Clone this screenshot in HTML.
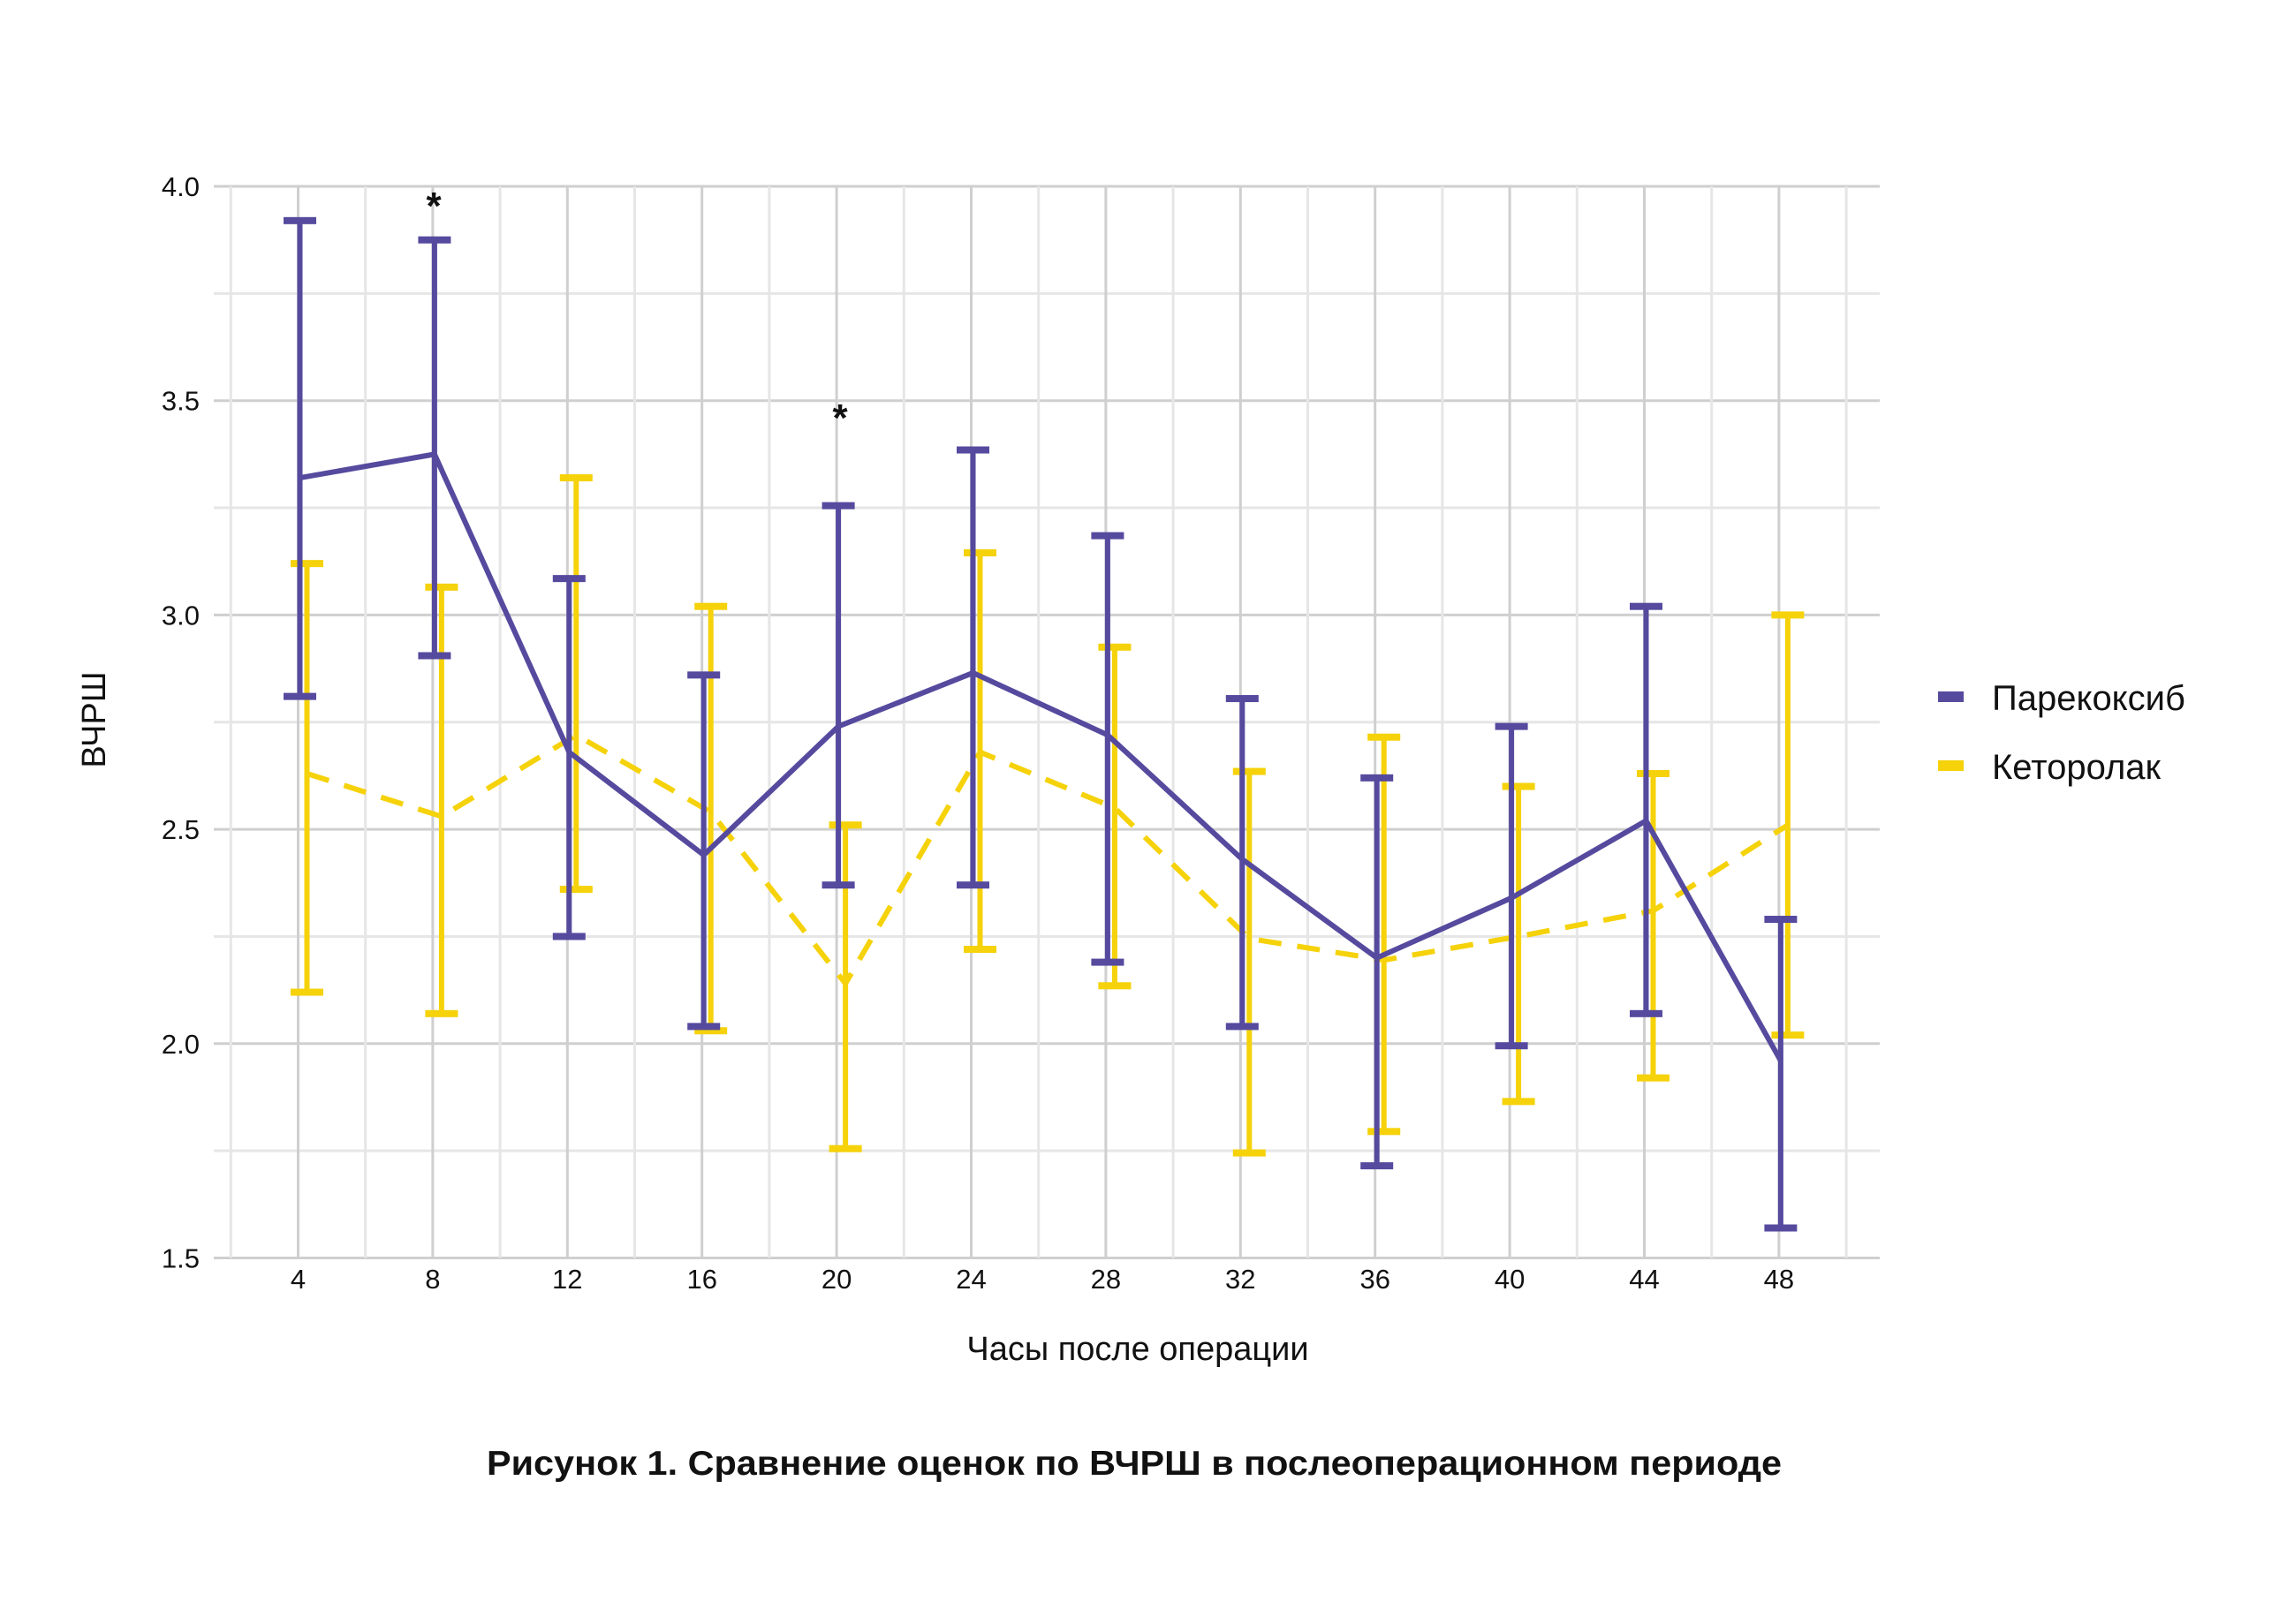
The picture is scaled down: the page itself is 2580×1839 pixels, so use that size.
<!DOCTYPE html>
<html><head><meta charset="utf-8">
<style>
html,body{margin:0;padding:0;background:#fff;}
svg{display:block;}
text{font-family:"Liberation Sans","DejaVu Sans",sans-serif;fill:#111;}
</style></head>
<body>
<svg id="c" width="2580" height="1839" viewBox="0 0 2580 1839" xmlns="http://www.w3.org/2000/svg">
<rect width="2580" height="1839" fill="#fff"/>
<g id="grid"></g>
<g id="series"></g>
<text x="107" y="815" font-size="38" text-anchor="middle" dominant-baseline="central" transform="rotate(-90 107 815)">ВЧРШ</text>
<text x="1288" y="1540" font-size="38" text-anchor="middle">Часы после операции</text>
<text x="1284" y="1670" font-size="39" font-weight="bold" text-anchor="middle" textLength="1466" lengthAdjust="spacingAndGlyphs">Рисунок 1. Сравнение оценок по ВЧРШ в послеоперационном периоде</text>
<rect x="2194" y="783" width="29" height="12" fill="#554a9e"/>
<text x="2255" y="804" font-size="40">Парекоксиб</text>
<rect x="2194" y="861" width="29" height="12" fill="#f5d20a"/>
<text x="2255" y="882" font-size="40">Кеторолак</text>
<text x="491" y="248" font-size="44" font-weight="bold" text-anchor="middle">*</text>
<text x="951" y="488" font-size="44" font-weight="bold" text-anchor="middle">*</text>
</svg>
<script>
(function(){
var NS="http://www.w3.org/2000/svg";
function X(h){return 337.5+(h-4)*38.1;}
function Y(v){return 211+(4-v)*485.4;}
function el(p,t,a,txt){var e=document.createElementNS(NS,t);for(var k in a)e.setAttribute(k,a[k]);if(txt!==undefined)e.textContent=txt;p.appendChild(e);return e;}
var g=document.getElementById('grid'),s=document.getElementById('series');
var L=242,R=2128,T=Y(4),B=Y(1.5);
for(var v=1.5;v<=4.001;v+=0.25){var maj=Math.abs(v*2-Math.round(v*2))<1e-6;
 el(g,'line',{x1:L,x2:R,y1:Y(v),y2:Y(v),stroke:maj?'#cfcfcf':'#e6e6e6','stroke-width':3});
 if(maj)el(g,'text',{x:226,y:Y(v)+11,'font-size':31,'text-anchor':'end'},v.toFixed(1));}
for(var h=2;h<=50;h+=2){var maj=h%4==0;
 el(g,'line',{x1:X(h),x2:X(h),y1:T,y2:B,stroke:maj?'#cfcfcf':'#e6e6e6','stroke-width':3});
 if(maj)el(g,'text',{x:X(h),y:1459,'font-size':31,'text-anchor':'middle'},String(h));}
var P=[[3.32,3.92,2.81],[3.375,3.875,2.905],[2.68,3.085,2.25],[2.44,2.86,2.04],[2.74,3.255,2.37],[2.865,3.385,2.37],[2.72,3.185,2.19],[2.43,2.805,2.04],[2.2,2.62,1.715],[2.34,2.74,1.995],[2.52,3.02,2.07],[1.96,2.29,1.57]];
var K=[[2.63,3.12,2.12],[2.53,3.065,2.07],[2.72,3.32,2.36],[2.54,3.02,2.03],[2.14,2.51,1.755],[2.68,3.145,2.22],[2.55,2.925,2.135],[2.245,2.635,1.745],[2.195,2.715,1.795],[2.25,2.6,1.865],[2.31,2.63,1.92],[2.51,3.0,2.02]];
function draw(D,off,col,dash){
 var pts=D.map(function(d,i){return X(4+4*i)+off+','+Y(d[0]);}).join(' ');
 D.forEach(function(d,i){var x=X(4+4*i)+off;
  el(s,'line',{x1:x,x2:x,y1:Y(d[1]),y2:Y(d[2]),stroke:col,'stroke-width':6});
  el(s,'rect',{x:x-18.5,y:Y(d[1])-4,width:37,height:8,fill:col});
  el(s,'rect',{x:x-18.5,y:Y(d[2])-4,width:37,height:8,fill:col});});
 var a={points:pts,fill:'none',stroke:col,'stroke-width':6,'stroke-linejoin':'miter'};
 if(dash)a['stroke-dasharray']='26 18';
 el(s,'polyline',a);}
draw(K,10,'#f5d20a',true);
draw(P,2,'#554a9e',false);
})();
</script>
</body></html>
